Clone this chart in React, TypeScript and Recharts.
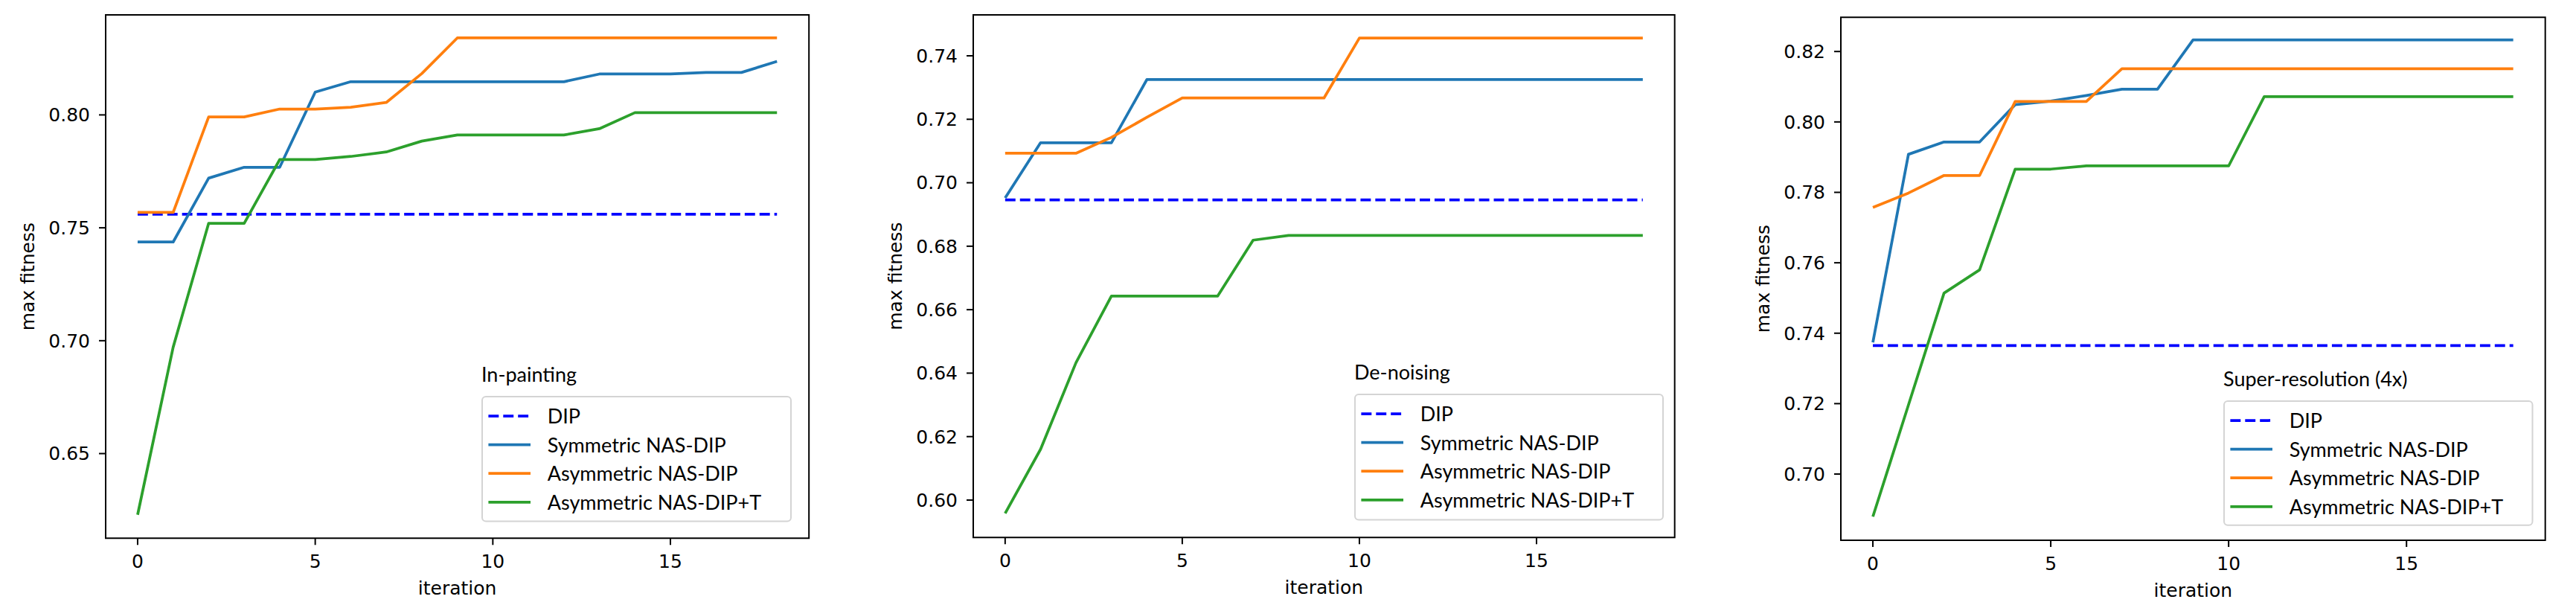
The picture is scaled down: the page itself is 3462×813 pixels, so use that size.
import { Label, Legend, Line, LineChart, ReferenceArea, XAxis, YAxis } from 'recharts';

const iterations = [0, 1, 2, 3, 4, 5, 6, 7, 8, 9, 10, 11, 12, 13, 14, 15, 16, 17, 18];
const xTicks = [0, 5, 10, 15];

// In-painting
const inpaintingDip = [
  0.756, 0.756, 0.756, 0.756, 0.756, 0.756, 0.756, 0.756, 0.756, 0.756, 0.756, 0.756, 0.756, 0.756,
  0.756, 0.756, 0.756, 0.756, 0.756
];
const inpaintingSymmetric = [
  0.7437, 0.7437, 0.772, 0.7768, 0.7768, 0.8101, 0.8147, 0.8147, 0.8147, 0.8147, 0.8147, 0.8147, 0.8147,
  0.8181, 0.8181, 0.8181, 0.8188, 0.8188, 0.8237
];
const inpaintingAsymmetric = [
  0.7568, 0.7568, 0.7991, 0.7991, 0.8026, 0.8026, 0.8034, 0.8055, 0.8183, 0.8341, 0.8341, 0.8341, 0.8341,
  0.8341, 0.8341, 0.8341, 0.8341, 0.8341, 0.8341
];
const inpaintingAsymmetricT = [
  0.6229, 0.6971, 0.752, 0.752, 0.7802, 0.7802, 0.7816, 0.7836, 0.7884, 0.7911, 0.7911, 0.7911, 0.7911,
  0.7939, 0.801, 0.801, 0.801, 0.801, 0.801
];
const inpaintingTicks = [0.65, 0.7, 0.75, 0.8];

// De-noising
const denoisingDip = [
  0.6946, 0.6946, 0.6946, 0.6946, 0.6946, 0.6946, 0.6946, 0.6946, 0.6946, 0.6946, 0.6946, 0.6946, 0.6946,
  0.6946, 0.6946, 0.6946, 0.6946, 0.6946, 0.6946
];
const denoisingSymmetric = [
  0.6952, 0.7126, 0.7126, 0.7126, 0.7325, 0.7325, 0.7325, 0.7325, 0.7325, 0.7325, 0.7325, 0.7325, 0.7325,
  0.7325, 0.7325, 0.7325, 0.7325, 0.7325, 0.7325
];
const denoisingAsymmetric = [
  0.7093, 0.7093, 0.7093, 0.7143, 0.7206, 0.7267, 0.7267, 0.7267, 0.7267, 0.7267, 0.7456, 0.7456, 0.7456,
  0.7456, 0.7456, 0.7456, 0.7456, 0.7456, 0.7456
];
const denoisingAsymmetricT = [
  0.5958, 0.616, 0.6433, 0.6643, 0.6643, 0.6643, 0.6643, 0.6819, 0.6834, 0.6834, 0.6834, 0.6834, 0.6834,
  0.6834, 0.6834, 0.6834, 0.6834, 0.6834, 0.6834
];
const denoisingTicks = [0.6, 0.62, 0.64, 0.66, 0.68, 0.7, 0.72, 0.74];

// Super-resolution (4x)
const superResDip = [
  0.7365, 0.7365, 0.7365, 0.7365, 0.7365, 0.7365, 0.7365, 0.7365, 0.7365, 0.7365, 0.7365, 0.7365, 0.7365,
  0.7365, 0.7365, 0.7365, 0.7365, 0.7365, 0.7365
];
const superResSymmetric = [
  0.7374, 0.7908, 0.7943, 0.7943, 0.8049, 0.8059, 0.8075, 0.8093, 0.8093, 0.8233, 0.8233, 0.8233, 0.8233,
  0.8233, 0.8233, 0.8233, 0.8233, 0.8233, 0.8233
];
const superResAsymmetric = [
  0.7757, 0.7798, 0.7848, 0.7848, 0.8058, 0.8058, 0.8058, 0.8151, 0.8151, 0.8151, 0.8151, 0.8151, 0.8151,
  0.8151, 0.8151, 0.8151, 0.8151, 0.8151, 0.8151
];
const superResAsymmetricT = [
  0.6879, 0.7196, 0.7514, 0.758, 0.7866, 0.7866, 0.7875, 0.7875, 0.7875, 0.7875, 0.7875, 0.8072, 0.8072,
  0.8072, 0.8072, 0.8072, 0.8072, 0.8072, 0.8072
];
const superResTicks = [0.7, 0.72, 0.74, 0.76, 0.78, 0.8, 0.82];

const SERIES = [
  { key: 'dip', name: 'DIP', color: '#0000ff', dash: '13.9 6' },
  { key: 'sym', name: 'Symmetric NAS-DIP', color: '#1f77b4' },
  { key: 'asym', name: 'Asymmetric NAS-DIP', color: '#ff7f0e' },
  { key: 'asymT', name: 'Asymmetric NAS-DIP+T', color: '#2ca02c' }
];

const PAGE_W = 3462;
const PAGE_H = 813;
const AXIS_W = 140;
const X_DOMAIN: [number, number] = [-0.9, 18.9];
const TICK_FONT = { fontFamily: 'DejaVu Sans', fontSize: 25, fill: '#000' };
const LEGEND_FONT = 'Lato, "Open Sans", sans-serif';

const buildRows = (dip: number[], sym: number[], asym: number[], asymT: number[]) =>
  iterations.map((iteration, i) => ({ iteration, dip: dip[i], sym: sym[i], asym: asym[i], asymT: asymT[i] }));

const PANELS = [
  {
    title: 'In-painting',
    rows: buildRows(inpaintingDip, inpaintingSymmetric, inpaintingAsymmetric, inpaintingAsymmetricT),
    yTicks: inpaintingTicks,
    yDomain: [0.6125, 0.8443] as [number, number],
    plot: { left: 141.5, top: 20, width: 945.2, height: 703.3 },
    legend: { left: 648.3, top: 533.3, width: 415, height: 167.4 }
  },
  {
    title: 'De-noising',
    rows: buildRows(denoisingDip, denoisingSymmetric, denoisingAsymmetric, denoisingAsymmetricT),
    yTicks: denoisingTicks,
    yDomain: [0.5882, 0.7529] as [number, number],
    plot: { left: 1308.3, top: 20, width: 942.7, height: 702.3 },
    legend: { left: 1820.6, top: 529.5, width: 414, height: 168.5 }
  },
  {
    title: 'Super-resolution (4x)',
    rows: buildRows(superResDip, superResSymmetric, superResAsymmetric, superResAsymmetricT),
    yTicks: superResTicks,
    yDomain: [0.6812, 0.8297] as [number, number],
    plot: { left: 2474, top: 23.3, width: 946.7, height: 702.7 },
    legend: { left: 2988.5, top: 538.9, width: 414.5, height: 166.8 }
  }
];

type LegendBoxProps = { title: string; width: number; height: number };

function LegendBox({ title, width, height }: LegendBoxProps) {
  const ox = 10;
  const oy = 50;
  return (
    <svg width={width + 2 * ox} height={height + oy + 10} style={{ display: 'block', overflow: 'visible' }}>
      <text x={ox - 1} y={oy - 20} fontFamily={LEGEND_FONT} fontSize={27} fill="#000">
        {title}
      </text>
      <rect
        x={ox}
        y={oy}
        width={width}
        height={height}
        rx={5}
        fill="#fff"
        fillOpacity={0.8}
        stroke="#d4d4d4"
        strokeWidth={2}
      />
      {SERIES.map((s, i) => {
        const cy = oy + 26 + i * 38.6;
        return (
          <g key={s.key}>
            <line
              x1={ox + 8.4}
              x2={ox + 65}
              y1={cy}
              y2={cy}
              stroke={s.color}
              strokeWidth={3.75}
              strokeDasharray={s.dash}
            />
            <text x={ox + 87.7} y={cy + 10} fontFamily={LEGEND_FONT} fontSize={27} fill="#000">
              {s.name}
            </text>
          </g>
        );
      })}
    </svg>
  );
}

type PanelProps = (typeof PANELS)[number];

function Panel({ title, rows, yTicks, yDomain, plot, legend }: PanelProps) {
  const chartLeft = plot.left - AXIS_W;
  const chartW = plot.width + AXIS_W + 12;
  const plotBottom = plot.top + plot.height;

  return (
    <div style={{ position: 'absolute', left: chartLeft, top: 0, width: chartW, height: PAGE_H }}>
      <LineChart
        width={chartW}
        height={PAGE_H}
        data={rows}
        margin={{ top: plot.top, right: 12, bottom: 0, left: 0 }}
      >
        <XAxis
          dataKey="iteration"
          type="number"
          domain={X_DOMAIN}
          ticks={xTicks}
          interval={0}
          allowDataOverflow
          height={PAGE_H - plotBottom}
          axisLine={false}
          tickLine={{ stroke: '#000', strokeWidth: 2 }}
          tickSize={9}
          tickMargin={13}
          tick={TICK_FONT}
          label={() => (
            <text
              x={AXIS_W + plot.width / 2}
              y={plotBottom + 76}
              textAnchor="middle"
              fontFamily="DejaVu Sans"
              fontSize={25}
              fill="#000"
            >
              iteration
            </text>
          )}
        />
        <YAxis
          type="number"
          domain={yDomain}
          ticks={yTicks}
          interval={0}
          allowDataOverflow
          width={AXIS_W}
          axisLine={false}
          tickLine={{ stroke: '#000', strokeWidth: 2 }}
          tickSize={9}
          tickMargin={12}
          tick={TICK_FONT}
          tickFormatter={(v: number) => v.toFixed(2)}
        >
          <Label
            content={() => (
              <text
                x={AXIS_W - 96}
                y={plot.top + plot.height / 2}
                transform={`rotate(-90, ${AXIS_W - 96}, ${plot.top + plot.height / 2})`}
                textAnchor="middle"
                fontFamily="DejaVu Sans"
                fontSize={25}
                fill="#000"
              >
                max fitness
              </text>
            )}
          />
        </YAxis>
        {SERIES.map((s) => (
          <Line
            key={s.key}
            type="linear"
            dataKey={s.key}
            name={s.name}
            stroke={s.color}
            strokeWidth={3.75}
            strokeDasharray={s.dash}
            strokeLinejoin="round"
            dot={false}
            activeDot={false}
            isAnimationActive={false}
          />
        ))}
        <ReferenceArea
          x1={X_DOMAIN[0]}
          x2={X_DOMAIN[1]}
          y1={yDomain[0]}
          y2={yDomain[1]}
          ifOverflow="visible"
          fill="none"
          fillOpacity={0}
          stroke="#000"
          strokeWidth={2}
        />
        <Legend
          layout="horizontal"
          verticalAlign="middle"
          align="center"
          wrapperStyle={{
            position: 'absolute',
            left: legend.left - chartLeft - 10,
            top: legend.top - 50,
            width: legend.width + 20,
            height: legend.height + 60
          }}
          content={() => <LegendBox title={title} width={legend.width} height={legend.height} />}
        />
      </LineChart>
    </div>
  );
}

export default function App() {
  return (
    <div
      style={{
        position: 'absolute',
        left: 0,
        top: 0,
        width: PAGE_W,
        height: PAGE_H,
        background: '#fff',
        overflow: 'hidden'
      }}
    >
      {PANELS.map((p) => (
        <Panel key={p.title} {...p} />
      ))}
    </div>
  );
}
